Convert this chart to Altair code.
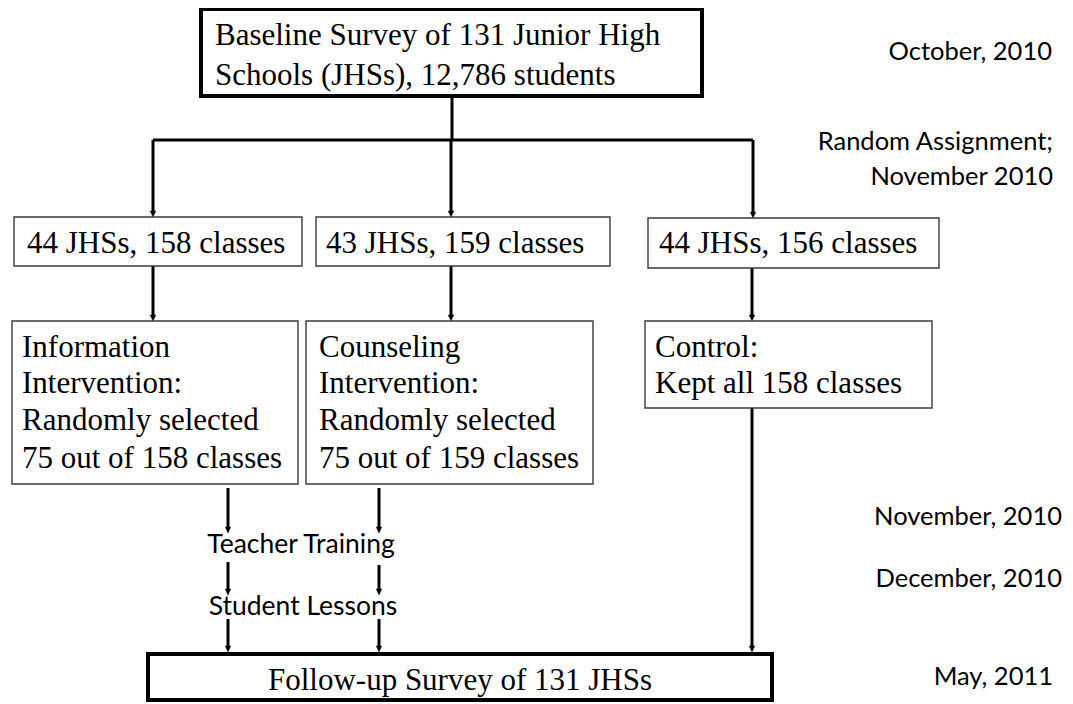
import altair as alt
import pandas as pd

# ---------------- content of the flow chart ----------------
# boxes (left, right, top, bottom in page pixels) and their outline style
box_x = [201, 148, 14, 316, 648, 12, 306, 645]
box_x2 = [702, 772, 302, 610, 939, 298, 593, 932]
box_y = [9, 654, 217, 217, 218, 321, 321, 321]
box_y2 = [96, 700, 266, 266, 268, 484, 484, 408]
box_kind = ["thick", "thick", "thin", "thin", "thin", "thin", "thin", "thin"]

# plain connector lines (no arrowhead)
line_x = [452, 153]
line_x2 = [452, 753]
line_y = [97, 140]
line_y2 = [140, 140]

# arrows (x, start y, tip y)
arrow_x = [153, 451, 753, 153, 451, 752, 228, 379, 228, 379, 228, 379, 752]
arrow_y = [140, 140, 140, 266, 266, 268, 488, 488, 562, 565, 619, 619, 408]
arrow_tip = [217, 217, 218, 321, 321, 321, 533, 533, 595, 595, 652, 652, 652]

# serif text inside boxes (left aligned): x, baseline y, text
serif_x = [215, 215, 27, 326, 659, 22, 22, 22, 22, 319, 319, 319, 319, 655, 655]
serif_y = [45, 85, 253, 253, 253, 357, 393, 430, 468, 357, 393, 430, 468, 357, 393]
serif_text = [
    "Baseline Survey of 131 Junior High",
    "Schools (JHSs), 12,786 students",
    "44 JHSs, 158 classes",
    "43 JHSs, 159 classes",
    "44 JHSs, 156 classes",
    "Information",
    "Intervention:",
    "Randomly selected",
    "75 out of 158 classes",
    "Counseling",
    "Intervention:",
    "Randomly selected",
    "75 out of 159 classes",
    "Control:",
    "Kept all 158 classes",
]
follow_x = [460]
follow_y = [690]
follow_text = ["Follow-up Survey of 131 JHSs"]

# timeline labels on the right (right aligned)
time_x = [1052, 1053, 1053, 1062, 1062, 1053]
time_y = [60, 150, 185, 525, 587, 685]
time_text = ["October, 2010", "Random Assignment;", "November 2010",
             "November, 2010", "December, 2010", "May, 2011"]

# step labels between arrows (centered)
step_x = [301, 303]
step_y = [553, 615]
step_text = ["Teacher Training", "Student Lessons"]

# ---------------- chart ----------------
W, H = 1057, 696
xs = alt.Scale(domain=[8, 8 + W], nice=False, zero=False)
ys = alt.Scale(domain=[8, 8 + H], nice=False, zero=False, reverse=True)
X = lambda f: alt.X(f, type="quantitative", scale=xs, axis=None)
Y = lambda f: alt.Y(f, type="quantitative", scale=ys, axis=None)

boxes = pd.DataFrame({"x": box_x, "x2": box_x2, "y": box_y, "y2": box_y2, "kind": box_kind})
lines = pd.DataFrame({"x": line_x, "x2": line_x2, "y": line_y, "y2": line_y2})
arrows = pd.DataFrame({"x": arrow_x, "y": arrow_y, "tip": arrow_tip})
arrows["end"] = arrows["tip"] - 6
serif = pd.DataFrame({"x": serif_x, "y": serif_y, "t": serif_text})
follow = pd.DataFrame({"x": follow_x, "y": follow_y, "t": follow_text})
times = pd.DataFrame({"x": time_x, "y": time_y, "t": time_text})
steps = pd.DataFrame({"x": step_x, "y": step_y, "t": step_text})

thin_boxes = alt.Chart(boxes).transform_filter(alt.datum.kind == "thin").mark_rect(
    fill="white", stroke="#3a3a3a", strokeWidth=1.4
).encode(x=X("x"), x2="x2", y=Y("y"), y2="y2")

thick_boxes = alt.Chart(boxes).transform_filter(alt.datum.kind == "thick").mark_rect(
    fill="white", stroke="black", strokeWidth=4
).encode(x=X("x"), x2="x2", y=Y("y"), y2="y2")

conn = alt.Chart(lines).mark_rule(color="black", strokeWidth=3).encode(
    x=X("x"), x2="x2", y=Y("y"), y2="y2")

shafts = alt.Chart(arrows).mark_rule(color="black", strokeWidth=3).encode(
    x=X("x"), y=Y("y"), y2="end")

heads = alt.Chart(arrows).mark_point(
    shape="M0,0L-0.45,-1L0.45,-1Z", filled=True, fill="black", stroke="black",
    strokeWidth=0.5, size=144, opacity=1
).encode(x=X("x"), y=Y("tip"))

serif_txt = alt.Chart(serif).mark_text(
    font="Liberation Serif", fontSize=31, align="left", baseline="alphabetic", color="black"
).encode(x=X("x"), y=Y("y"), text="t:N")

follow_txt = alt.Chart(follow).mark_text(
    font="Liberation Serif", fontSize=31, align="center", baseline="alphabetic", color="black"
).encode(x=X("x"), y=Y("y"), text="t:N")

time_txt = alt.Chart(times).mark_text(
    font="Lato", fontSize=25.5, align="right", baseline="alphabetic", color="black"
).encode(x=X("x"), y=Y("y"), text="t:N")

step_txt = alt.Chart(steps).mark_text(
    font="Lato", fontSize=26.5, align="center", baseline="alphabetic", color="black"
).encode(x=X("x"), y=Y("y"), text="t:N")

chart = alt.layer(
    conn, shafts, heads, thin_boxes, thick_boxes, serif_txt, follow_txt, time_txt, step_txt
).properties(
    width=W, height=H, padding=0, autosize=alt.AutoSizeParams(type="none"),
    background="white"
).configure_view(stroke=None, clip=False)

chart.save("out.html", embed_options={"renderer": "svg", "actions": False})
